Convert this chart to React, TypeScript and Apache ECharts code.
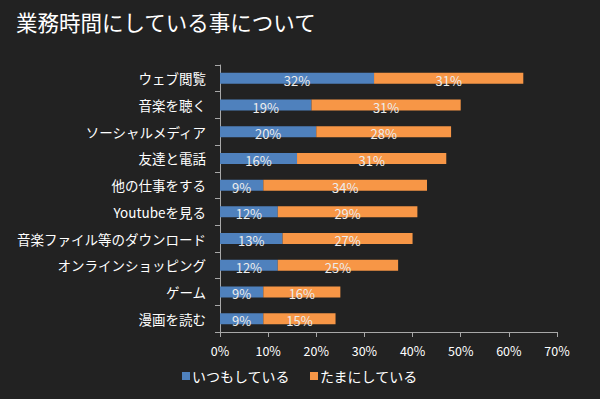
import React, { useEffect, useRef } from "react";
import * as echarts from "echarts";

const categories = [
  "ウェブ閲覧",
  "音楽を聴く",
  "ソーシャルメディア",
  "友達と電話",
  "他の仕事をする",
  "Youtubeを見る",
  "音楽ファイル等のダウンロード",
  "オンラインショッピング",
  "ゲーム",
  "漫画を読む",
];
const always = [32, 19, 20, 16, 9, 12, 13, 12, 9, 9];
const sometimes = [31, 31, 28, 31, 34, 29, 27, 25, 16, 15];
const seriesNames = ["いつもしている", "たまにしている"];
const title = "業務時間にしている事について";

const FONT = "'Noto Sans CJK JP', 'Noto Sans', sans-serif";

export default function App() {
  const ref = useRef<HTMLDivElement>(null);
  useEffect(() => {
    if (!ref.current) return;
    const chart = echarts.init(ref.current, undefined, { renderer: "svg" });
    const label = {
      show: true,
      position: "inside" as const,
      color: "#ececec",
      fontSize: 13,
      fontFamily: FONT,
      formatter: "{c}%",
      offset: [0, 2],
    };
    chart.setOption({
      animation: false,
      backgroundColor: "#222222",
      title: {
        text: title,
        left: 11,
        top: 6,
        textStyle: { color: "#ffffff", fontSize: 21.5, fontWeight: "normal", fontFamily: FONT },
      },
      legend: {
        bottom: 11,
        left: "center",
        icon: "rect",
        itemWidth: 8,
        itemHeight: 8,
        itemGap: 20,
        textStyle: { color: "#ffffff", fontSize: 14, fontFamily: FONT, padding: [0, 0, 0, -3] },
        data: seriesNames,
      },
      grid: { left: 220, right: 43, top: 65, bottom: 67, containLabel: false },
      xAxis: {
        type: "value",
        min: 0,
        max: 70,
        interval: 10,
        axisLine: { show: true, lineStyle: { color: "#a8a8a8" } },
        axisTick: { show: true, length: 5, lineStyle: { color: "#a8a8a8" } },
        splitLine: { show: false },
        axisLabel: { color: "#ffffff", fontSize: 12.5, fontFamily: FONT, formatter: "{value}%", margin: 12 },
      },
      yAxis: {
        type: "category",
        inverse: true,
        data: categories,
        axisLine: { show: true, lineStyle: { color: "#a8a8a8" } },
        axisTick: { show: true, length: 5, lineStyle: { color: "#a8a8a8" } },
        axisLabel: { color: "#ffffff", fontSize: 13.5, fontFamily: FONT, margin: 14 },
      },
      series: [
        {
          name: seriesNames[0],
          type: "bar",
          stack: "total",
          data: always,
          barWidth: 11,
          itemStyle: { color: "#4f81bd" },
          label,
        },
        {
          name: seriesNames[1],
          type: "bar",
          stack: "total",
          data: sometimes,
          barWidth: 11,
          itemStyle: { color: "#f79646" },
          label,
        },
      ],
    });
    return () => chart.dispose();
  }, []);
  return <div ref={ref} style={{ width: 600, height: 399, position: "fixed", left: 0, top: 0 }} />;
}
